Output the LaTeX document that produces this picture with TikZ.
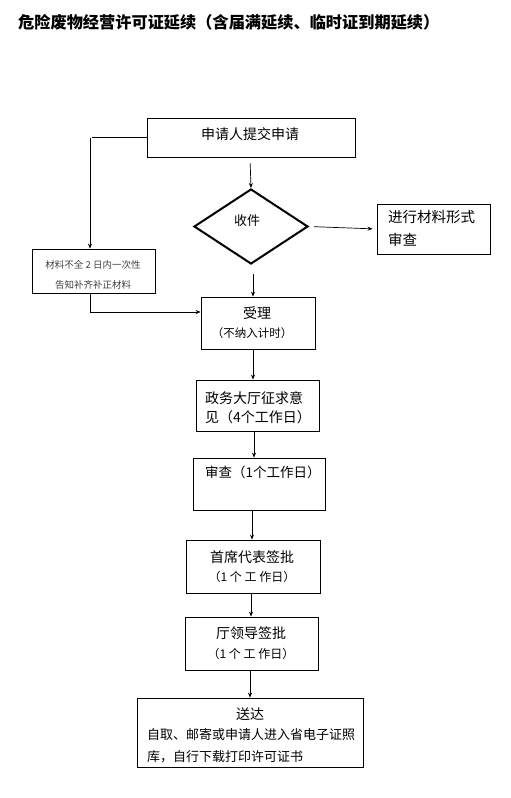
\documentclass[tikz,border=0pt]{standalone}
\usepackage{fontspec}
\newfontfamily\cjk{Noto Sans CJK SC}
\usetikzlibrary{shapes.geometric,arrows.meta}
\tikzset{
  boxnode/.style={draw, line width=0.8pt, inner sep=0pt, minimum width=#1},
  txt/.style={inner sep=0pt, font=\cjk\fontsize{13}{15}\selectfont},
  arr/.style={line width=0.7pt, -{Stealth[length=5pt,width=4pt]}},
}
\begin{document}
\begin{tikzpicture}[x=1pt,y=-1pt]
\useasboundingbox (0,0) rectangle (511,798);
% title
\node[anchor=west, inner sep=0pt, font=\cjk\bfseries\fontsize{16.2}{18}\selectfont] (title) at (18,22) {危险废物经营许可证延续（含届满延续、临时证到期延续）};
% boxes
\node[boxnode=208pt, minimum height=39pt] (B1) at (251,137.5) {};
\node[txt, font=\cjk\fontsize{14}{16}\selectfont] (t1) at (250,134) {申请人提交申请};
\node[draw, diamond, line width=2pt, minimum width=114pt, minimum height=75pt, inner sep=0pt] (D) at (251,226.5) {};
\node[txt] (tD) at (247,221) {收件};
\node[boxnode=113pt, minimum height=50pt] (R) at (433.5,229) {};
\node[txt, font=\cjk\fontsize{14.5}{23}\selectfont, anchor=north west, align=left] (tR) at (388,210) {进行材料形式\\审查};
\node[boxnode=123pt, minimum height=44pt] (L) at (93.5,271) {};
\node[txt, font=\cjk\fontsize{9.5}{11}\selectfont, text=black!75] (tL1) at (93,265) {材料不全 2 日内一次性};
\node[txt, font=\cjk\fontsize{9.5}{11}\selectfont, text=black!75] (tL2) at (93,284.5) {告知补齐补正材料};
\node[boxnode=114pt, minimum height=52pt] (SL) at (258,323) {};
\node[txt, font=\cjk\fontsize{14}{16}\selectfont] (tS1) at (257,313) {受理};
\node[txt, font=\cjk\fontsize{11.5}{14}\selectfont] (tS2) at (252,333) {（不纳入计时）};
\node[boxnode=123pt, minimum height=51pt] (ZW) at (257.5,405.5) {};
\node[txt, anchor=west, font=\cjk\fontsize{14}{16}\selectfont] (tZ1) at (205,398) {政务大厅征求意};
\node[txt, anchor=west, font=\cjk\fontsize{14}{16}\selectfont] (tZ2) at (205,417) {见（4个工作日）};
\node[boxnode=132pt, minimum height=52pt] (SC) at (259,484) {};
\node[txt, anchor=west, font=\cjk\fontsize{13.5}{16}\selectfont] (tC) at (205,472) {审查（1个工作日）};
\node[boxnode=134pt, minimum height=53pt] (SX) at (253,566.5) {};
\node[txt, font=\cjk\fontsize{14}{16}\selectfont] (tX1) at (252,557) {首席代表签批};
\node[txt, font=\cjk\fontsize{12}{14}\selectfont] (tX2) at (252,577) {（1 个 工 作日）};
\node[boxnode=133pt, minimum height=53pt] (TL) at (251.5,643.5) {};
\node[txt, font=\cjk\fontsize{14}{16}\selectfont] (tT1) at (251,633) {厅领导签批};
\node[txt, font=\cjk\fontsize{12}{14}\selectfont] (tT2) at (251,654) {（1 个 工 作日）};
\node[boxnode=226pt, minimum height=69pt] (SD) at (250,732.5) {};
\node[txt, font=\cjk\fontsize{14}{16}\selectfont] (tD1) at (250,714) {送达};
\node[txt, anchor=west] (tD2) at (147,735) {自取、邮寄或申请人进入省电子证照};
\node[txt, anchor=west] (tD3) at (147,757) {库，自行下载打印许可证书};
% connectors
\draw[line width=1.6pt] (B1.west) -- ([xshift=-1.5pt]B1.west -| L.north) coordinate (c1);
\draw[arr] ([xshift=-3.5pt]B1.west -| L.north) -- ([xshift=-3.5pt]L.north);
\draw[arr, shorten <=6pt] ([xshift=-1pt]B1.south) -- (D.north);
\draw[arr, shorten <=5pt, shorten >=4pt] (D.east) -- (R.west);
\draw[arr, shorten <=9pt] ([xshift=2pt]D.south) -- ([xshift=2pt]D.south |- SL.north);
\draw[arr] ([xshift=-3.5pt]L.south) |- ([yshift=11pt]SL.west);
\draw[arr] ([xshift=-5pt]SL.south) -- ([xshift=-5pt]SL.south |- ZW.north);
\draw[arr] ([xshift=-3.5pt]ZW.south) -- ([xshift=-3.5pt]ZW.south |- SC.north);
\draw[arr] ([xshift=-7pt]SC.south) -- ([xshift=-7pt]SC.south |- SX.north);
\draw[arr] ([xshift=-2pt]SX.south) -- ([xshift=-2pt]SX.south |- TL.north);
\draw[arr] ([xshift=-1.5pt]TL.south) -- ([xshift=-1.5pt]TL.south |- SD.north);
\end{tikzpicture}
\end{document}
